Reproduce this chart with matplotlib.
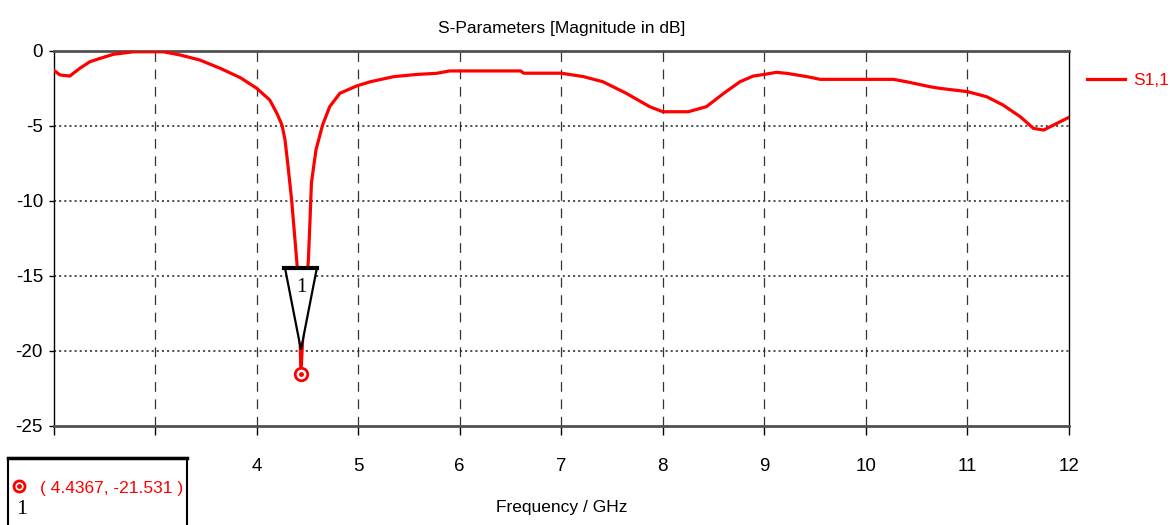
import numpy as np
import matplotlib
matplotlib.use('Agg')
import matplotlib.pyplot as plt
from matplotlib.patches import Rectangle, Polygon
from matplotlib.lines import Line2D
from matplotlib.transforms import ScaledTranslation

# S1,1 magnitude
freq_ghz = [2.0, 2.065, 2.16, 2.26, 2.36, 2.46, 2.59, 2.79, 3.08, 3.25, 3.44, 3.64,
            3.84, 4.0, 4.13, 4.20, 4.25, 4.28, 4.31, 4.345, 4.378, 4.40, 4.42, 4.4367,
            4.47, 4.49, 4.51, 4.526, 4.54, 4.585, 4.65, 4.72, 4.82, 4.985, 5.12, 5.35,
            5.58, 5.77, 5.90, 6.0, 6.6, 6.63, 7.0, 7.22, 7.41, 7.64, 7.87, 8.0, 8.25,
            8.43, 8.6, 8.76, 8.89, 9.0, 9.12, 9.22, 9.42, 9.55, 10.27, 10.4, 10.63,
            10.73, 11.0, 11.19, 11.35, 11.52, 11.65, 11.75, 11.85, 12.0]
s11_db = [-1.29, -1.62, -1.69, -1.17, -0.73, -0.51, -0.24, -0.07, -0.07, -0.29, -0.62, -1.17,
          -1.8, -2.5, -3.29, -4.18, -4.95, -5.95, -7.73, -9.95, -12.6, -14.4, -17.3, -21.531,
          -17.0, -15.6, -13.95, -11.3, -8.8, -6.6, -4.95, -3.73, -2.84, -2.35, -2.07, -1.73,
          -1.58, -1.51, -1.35, -1.35, -1.35, -1.5, -1.5, -1.73, -2.07, -2.84, -3.73, -4.07, -4.07,
          -3.73, -2.84, -2.07, -1.69, -1.58, -1.44, -1.51, -1.73, -1.91, -1.91, -2.07, -2.4,
          -2.51, -2.73, -3.07, -3.62, -4.4, -5.18, -5.29, -4.95, -4.44]

marker_f = 4.4367
marker_db = -21.531
x_ticks = [2, 3, 4, 5, 6, 7, 8, 9, 10, 11, 12]
y_ticks = [0, -5, -10, -15, -20, -25]

plt.rcParams['font.family'] = ['Liberation Sans Narrow', 'Liberation Sans', 'DejaVu Sans']
plt.rcParams['lines.scale_dashes'] = False
plt.rcParams['axes.unicode_minus'] = False

fig = plt.figure(figsize=(11.73, 5.25), dpi=100)
ax = fig.add_axes([53.5 / 1173, 1 - 425.7 / 525, (1069 - 53.5) / 1173, 375 / 525])

ax.plot(freq_ghz, s11_db, color='#ff0000', lw=2.3, label='S1,1', zorder=3)
ax.set_xlim(2, 12)
ax.set_ylim(-25, 0)
ax.set_xticks(x_ticks)
ax.set_yticks(y_ticks)

for xv in x_ticks[1:-1]:
    ax.axvline(xv, color='#333333', lw=0.9, dashes=(7, 5.5), zorder=1)
for yv in y_ticks[1:-1]:
    ax.axhline(yv, color='#222222', lw=1.1, dashes=(1.5, 2.2), zorder=1)

for s in ['top', 'bottom']:
    ax.spines[s].set_color('#505050')
    ax.spines[s].set_linewidth(2.0)
for s in ['left', 'right']:
    ax.spines[s].set_color('black')
    ax.spines[s].set_linewidth(1.0)

ax.tick_params(axis='x', direction='out', length=6.5, width=1, pad=17, labelsize=13.5)
ax.tick_params(axis='y', direction='out', length=3.6, width=1, pad=4, labelsize=13.5)

ax.set_title('S-Parameters [Magnitude in dB]', fontsize=12.5, pad=13)
ax.set_xlabel('Frequency / GHz', fontsize=12.5, labelpad=18)

# marker 1: triangle flag above the point, sized in inches
tri_tf = fig.dpi_scale_trans + ScaledTranslation(marker_f, marker_db, ax.transData)
tri = Polygon([[0, 0.24], [-0.16, 1.06], [0.16, 1.06]], closed=True, facecolor='white',
              edgecolor='black', lw=1.6, transform=tri_tf, zorder=4, clip_on=False)
ax.add_patch(tri)
ax.add_line(Line2D([-0.165, 0.165], [1.06, 1.06], color='black', lw=3, transform=tri_tf, zorder=5))
ax.text(0, 0.86, '1', transform=tri_tf, ha='center', va='center', fontsize=15, zorder=6,
        family=['Liberation Serif', 'DejaVu Serif'])
ax.plot([marker_f], [marker_db], marker='o', ms=9, mfc='white', mec='#ff0000', mew=2, zorder=6)
ax.plot([marker_f], [marker_db], marker='o', ms=2.5, color='#ff0000', zorder=7)

leg = ax.legend(loc='center left', bbox_to_anchor=(1087 / 1173, 1 - 80 / 525),
                bbox_transform=fig.transFigure, frameon=False, fontsize=12.5,
                handlelength=2.2, handletextpad=0.45, borderpad=0, borderaxespad=0)
for t in leg.get_texts():
    t.set_color('#ff0000')

# marker readout box at the bottom left
box = Rectangle((8 / 1173, -0.05), 179 / 1173, 0.05 + 1 - 458 / 525, transform=fig.transFigure,
                facecolor='white', edgecolor='black', lw=1.5, zorder=10)
fig.add_artist(box)
fig.add_artist(Line2D([8 / 1173, 187 / 1173], [1 - 458 / 525] * 2, color='black', lw=2.5,
                      transform=fig.transFigure, zorder=11))
fig.add_artist(Line2D([19 / 1173], [1 - 486 / 525], marker='o', ms=8, mfc='white', mec='#ff0000',
                      mew=2, transform=fig.transFigure, zorder=11))
fig.add_artist(Line2D([19 / 1173], [1 - 486 / 525], marker='o', ms=2.5, color='#ff0000',
                      transform=fig.transFigure, zorder=12))
fig.text(40 / 1173, 1 - 488 / 525, f'( {marker_f}, {marker_db} )', color='#ff0000',
         fontsize=12.5, va='center', ha='left', zorder=12)
fig.text(22 / 1173, 1 - 509 / 525, '1', color='black', fontsize=16, va='center', ha='center',
         zorder=12, family=['Liberation Serif', 'DejaVu Serif'])

fig.savefig('out.png', dpi=100)
